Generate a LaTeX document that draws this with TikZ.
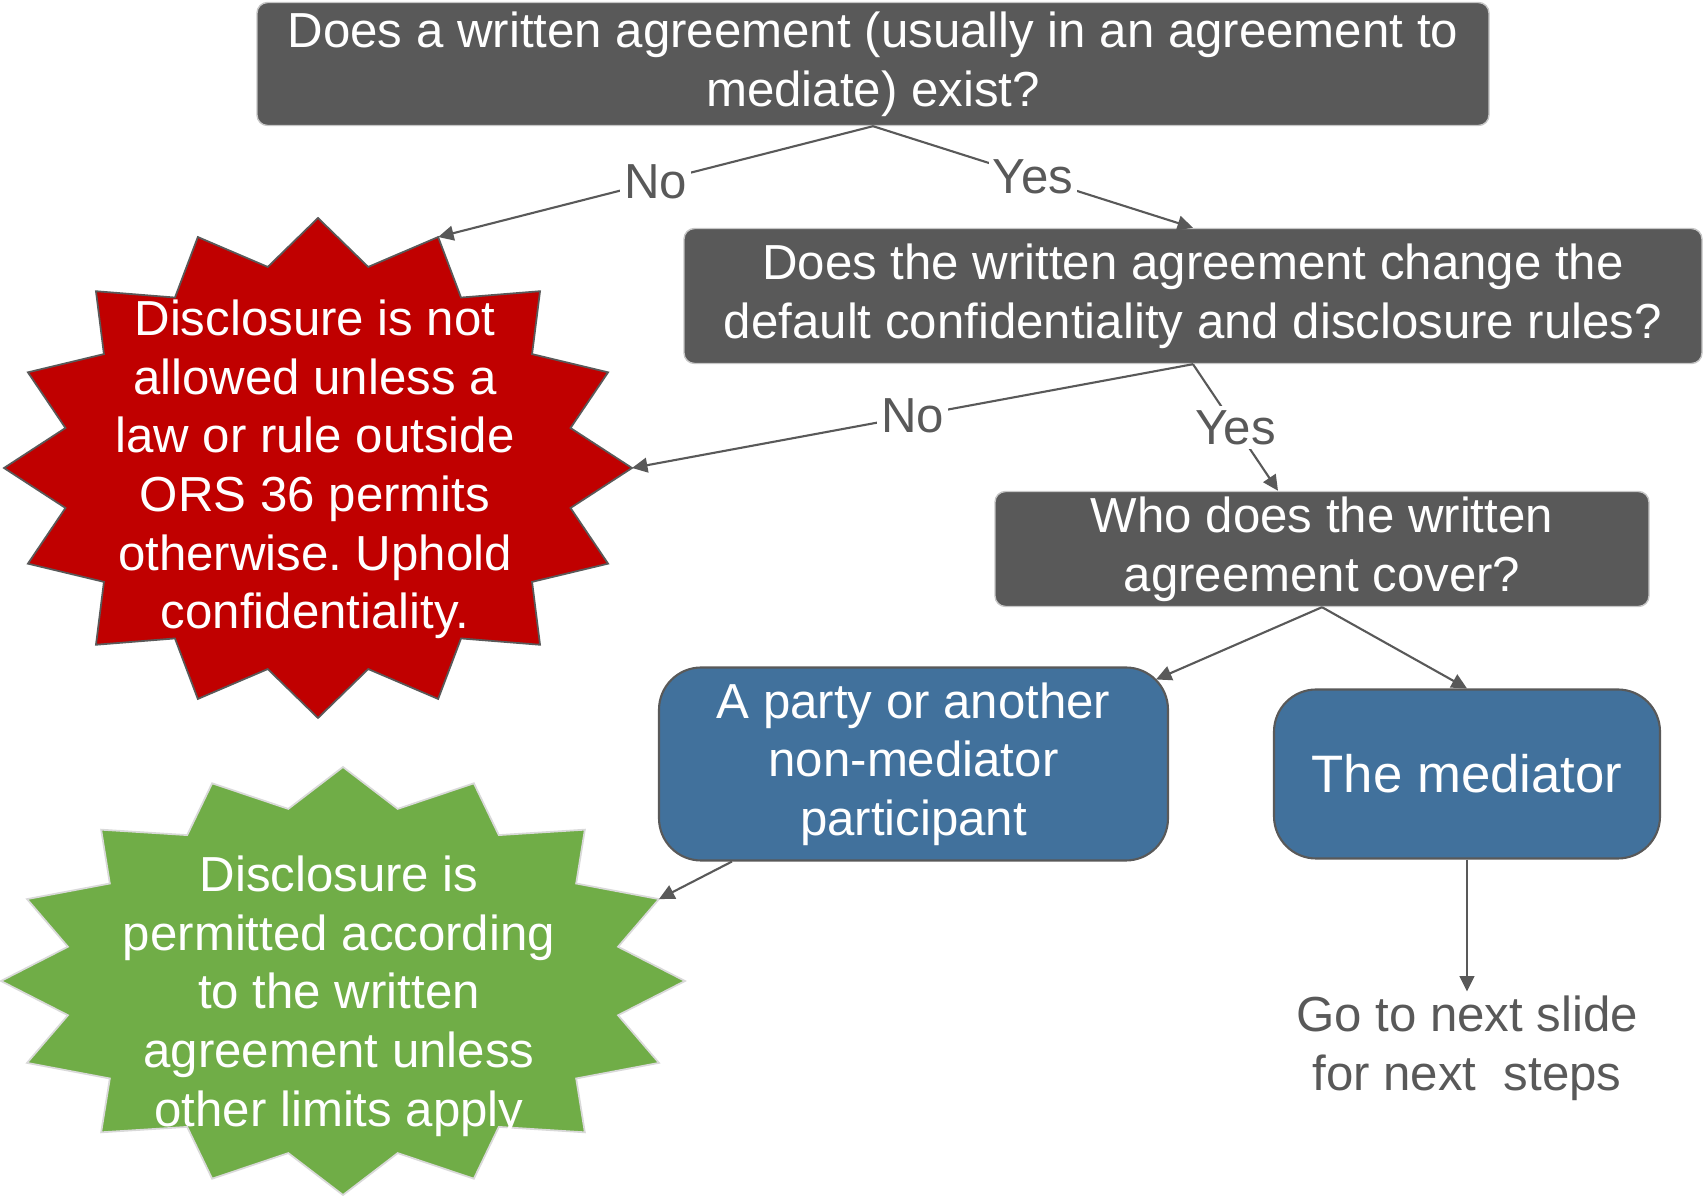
\documentclass[tikz,border=0pt]{standalone}
\usepackage{fontspec}
\setmainfont{Liberation Sans}
\usepackage{xcolor}
\usetikzlibrary{arrows.meta,calc}
\frenchspacing

\definecolor{boxgray}{HTML}{595959}
\definecolor{stopred}{HTML}{C00000}
\definecolor{actorblue}{HTML}{41719C}
\definecolor{okgreen}{HTML}{70AD47}

\begin{document}
\begin{tikzpicture}[
  x=1cm,
  y=1cm,
  >={Triangle[length=4.4pt,width=4.2pt]},
  flow/.style={->,draw=boxgray,line width=.6pt},
  question/.style={draw=gray!45,fill=boxgray,rounded corners=3pt,align=center,
    text=white,inner sep=0pt,font=\fontsize{14}{16.7}\selectfont},
  actor/.style={draw=black!65,fill=actorblue,rounded corners=12pt,align=center,
    text=white,inner sep=0pt,line width=.6pt,font=\fontsize{14}{16.7}\selectfont},
  startext/.style={align=center,text=white,font=\fontsize{14}{16.7}\selectfont},
  plaintext/.style={align=center,text=boxgray,inner sep=1pt,font=\fontsize{14}{16.7}\selectfont},
  answer/.style={fill=white,text=boxgray,inner sep=1.2pt,font=\fontsize{14}{16.7}\selectfont}
]
\useasboundingbox (0,0) rectangle (17.03,-11.96);

\node[question,minimum width=12.32cm,minimum height=1.23cm] (written) at (8.73,-0.64)
  {Does a written agreement (usually in an agreement to\\mediate) exist?};
\node[question,minimum width=10.18cm,minimum height=1.35cm] (change) at (11.93,-2.96)
  {Does the written agreement change the\\default confidentiality and disclosure rules?};
\node[question,minimum width=6.54cm,minimum height=1.15cm] (cover) at (13.22,-5.49)
  {Who does the written\\agreement cover?};

\node[actor,minimum width=5.09cm,minimum height=1.93cm] (party) at (9.135,-7.64)
  {A party or another\\non-mediator\\participant};
\node[actor,minimum width=3.86cm,minimum height=1.69cm,
  font=\fontsize{15}{18}\selectfont] (mediator) at (14.67,-7.74) {The mediator};
\node[plaintext] (nextslide) at (14.67,-10.48) {Go to next slide\\for next\ \ steps};

% the two bursts
\coordinate (stopc) at (3.18,-4.68);
\coordinate (permitc) at (3.43,-9.81);
\draw[fill=stopred,draw=boxgray,line width=.5pt,shift={(stopc)}]
  (90:3.14 and 2.50) \foreach \k [evaluate=\k as \r using {mod(\k,2)==0 ? 1 : 0.82}] in {1,...,31}
  { -- ({90+\k*11.25}:{3.14*\r} and {2.50*\r}) } -- cycle;
\draw[fill=okgreen,draw=gray!30,line width=.5pt,shift={(permitc)}]
  (90:3.42 and 2.14) \foreach \k [evaluate=\k as \r using {mod(\k,2)==0 ? 1 : 0.82}] in {1,...,31}
  { -- ({90+\k*11.25}:{3.42*\r} and {2.14*\r}) } -- cycle;
\path (stopc) ++(67.5:3.14 and 2.50) coordinate (stopne);
\path (stopc) ++(0:3.14 and 2.50) coordinate (stope);
\path (permitc) ++(22.5:3.42 and 2.14) coordinate (permitne);

\node[startext] (stoptext) at (3.15,-4.695)
  {Disclosure is not\\allowed unless a\\law or rule outside\\ORS 36 permits\\otherwise. Uphold\\confidentiality.};
\node[startext] (permittext) at (3.39,-9.96)
  {Disclosure is\\permitted according\\to the written\\agreement unless\\other limits apply};

\draw[flow] (written.south) -- node[answer]{No} (stopne);
\draw[flow] (written.south) -- node[answer]{Yes} (change.north);
\draw[flow] (change.south) -- node[answer]{No} (stope);
\draw[flow] (change.south) -- node[answer]{Yes} ($(cover.north)+(-0.44,0)$);
\draw[flow] (cover.south) -- ($(party.north east)+(-0.13,-0.13)$);
\draw[flow] (cover.south) -- (mediator.north);
\draw[flow] ($(party.south west)+(0.74,0)$) -- (permitne);
\draw[flow] (mediator.south) -- (nextslide);

\end{tikzpicture}
\end{document}
